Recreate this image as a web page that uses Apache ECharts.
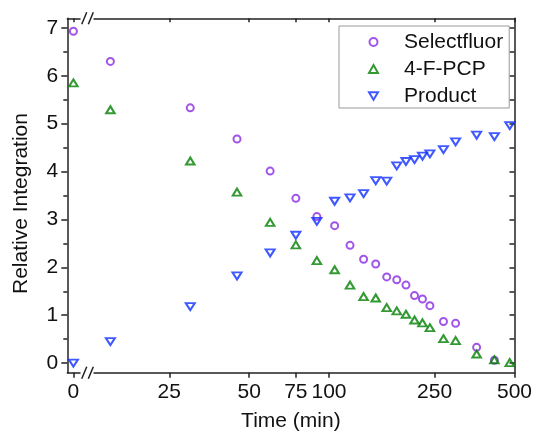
<!DOCTYPE html>
<html>
<head>
<meta charset="utf-8">
<script src="https://cdn.jsdelivr.net/npm/echarts@6/dist/echarts.min.js"></script>
<style>
  html, body { margin: 0; padding: 0; background: #fff; }
  #chart { width: 535px; height: 442px; }
</style>
</head>
<body>
<div id="chart"></div>
<script>
// Sampling times (min)
const times = [0, 15, 30, 45, 60, 75, 90, 105, 120, 135, 150, 165, 180, 195, 210, 225, 240, 270, 300, 360, 420, 480];

// Relative integrations per species
const selectfluor = [6.93, 6.30, 5.33, 4.68, 4.01, 3.44, 3.06, 2.87, 2.46, 2.17, 2.07, 1.80, 1.74, 1.63, 1.41, 1.34, 1.20, 0.87, 0.83, 0.33, 0.06, null];
const fPcp        = [5.85, 5.29, 4.22, 3.57, 2.94, 2.47, 2.14, 1.95, 1.63, 1.39, 1.36, 1.16, 1.09, 1.02, 0.90, 0.84, 0.74, 0.51, 0.47, 0.19, 0.07, 0.01];
const product     = [0.00, 0.45, 1.18, 1.82, 2.30, 2.67, 2.96, 3.38, 3.45, 3.54, 3.81, 3.80, 4.12, 4.21, 4.25, 4.32, 4.37, 4.46, 4.62, 4.76, 4.73, 4.96];

const seriesNames = ['Selectfluor', '4-F-PCP', 'Product'];

// Time axis tick labels
const xTickLabels = [0, 25, 50, 75, 100, 250, 500];
const yTickLabels = [0, 1, 2, 3, 4, 5, 6, 7];

// Log time axis with a broken segment: t = 0 sits just left of the break
const X_MIN = 10.32, X_MAX = 500, ZERO_AT = 10.88, BREAK_AT = 12.3;
const toX = t => Math.log10(t === 0 ? ZERO_AT : t);

const FONT = "'Liberation Sans', Arial, sans-serif";
const AXIS_COLOR = '#222';
const TEXT_COLOR = '#111';
const DOWN_TRIANGLE = 'path://M0,0L10,0L5,8.5Z';

function pairs(vals) {
  return times.map((t, i) => vals[i] == null ? null : [toX(t), vals[i]]).filter(Boolean);
}

const xTickPos = xTickLabels.map(toX);
const yMinor = [];
for (let v = 0.5; v < 7; v += 1) yMinor.push(v);
const yAll = [];
for (let v = 0; v <= 7; v += 0.5) yAll.push(v);

const chart = echarts.init(document.getElementById('chart'), null, { renderer: 'canvas' });

const baseX = {
  type: 'value', min: Math.log10(X_MIN), max: Math.log10(X_MAX),
  splitLine: { show: false },
  axisLine: { show: true, onZero: false, lineStyle: { color: AXIS_COLOR, width: 1.5 } }
};
const baseY = {
  type: 'value', min: -0.2, max: 7.2,
  splitLine: { show: false },
  axisLine: { show: true, onZero: false, lineStyle: { color: AXIS_COLOR, width: 1.5 } }
};

const option = {
  animation: false,
  backgroundColor: '#fff',
  grid: { left: 67.3, right: 20, top: 18.3, bottom: 69.3, containLabel: false },
  xAxis: [
    Object.assign({}, baseX, {
      position: 'bottom',
      name: 'Time (min)', nameLocation: 'middle', nameGap: 38,
      nameTextStyle: { fontFamily: FONT, fontSize: 21, color: TEXT_COLOR },
      axisTick: { show: true, inside: false, length: 5, customValues: xTickPos,
                  lineStyle: { color: AXIS_COLOR, width: 1.5 } },
      axisLabel: { show: true, margin: 9, customValues: xTickPos,
                   fontFamily: FONT, fontSize: 21, color: TEXT_COLOR,
                   formatter: v => {
                     const i = xTickPos.findIndex(p => Math.abs(p - v) < 1e-6);
                     return i >= 0 ? String(xTickLabels[i]) : '';
                   } }
    }),
    Object.assign({}, baseX, {
      position: 'top',
      axisTick: { show: true, inside: true, length: 4, customValues: xTickPos,
                  lineStyle: { color: AXIS_COLOR, width: 1.5 } },
      axisLabel: { show: false }
    })
  ],
  yAxis: [
    Object.assign({}, baseY, {
      position: 'left',
      name: 'Relative Integration', nameLocation: 'middle', nameGap: 36,
      nameTextStyle: { fontFamily: FONT, fontSize: 21, color: TEXT_COLOR, padding: [0, 16, 0, 0] },
      axisTick: { show: true, inside: false, length: 6, customValues: yTickLabels,
                  lineStyle: { color: AXIS_COLOR, width: 1.5 } },
      axisLabel: { show: true, margin: 9, customValues: yTickLabels,
                   fontFamily: FONT, fontSize: 21, color: TEXT_COLOR }
    }),
    Object.assign({}, baseY, {
      position: 'left',
      axisLine: { show: false },
      axisTick: { show: true, inside: false, length: 4, customValues: yMinor,
                  lineStyle: { color: AXIS_COLOR, width: 1.5 } },
      axisLabel: { show: false }
    }),
    Object.assign({}, baseY, {
      position: 'right',
      axisTick: { show: true, inside: true, length: 5, customValues: yAll,
                  lineStyle: { color: AXIS_COLOR, width: 1.5 } },
      axisLabel: { show: false }
    })
  ],
  legend: {
    orient: 'vertical', left: 339, top: 26,
    padding: [5, 6, 1, 29], itemGap: 5, itemWidth: 9, itemHeight: 8,
    borderColor: '#999', borderWidth: 1,
    textStyle: { fontFamily: FONT, fontSize: 21, color: TEXT_COLOR, lineHeight: 22,
                 padding: [0, 0, 0, 21] },
    data: [
      { name: seriesNames[0] },
      { name: seriesNames[1] },
      { name: seriesNames[2], icon: DOWN_TRIANGLE }
    ]
  },
  series: [
    {
      name: seriesNames[0], type: 'scatter', data: pairs(selectfluor),
      symbol: 'circle', symbolSize: 7,
      itemStyle: { color: 'rgba(0,0,0,0)', borderColor: '#8a2be2', borderWidth: 2 }
    },
    {
      name: seriesNames[1], type: 'scatter', data: pairs(fPcp),
      symbol: 'triangle', symbolSize: [8.5, 7],
      itemStyle: { color: 'rgba(0,0,0,0)', borderColor: '#008000', borderWidth: 2 }
    },
    {
      name: seriesNames[2], type: 'scatter', data: pairs(product),
      symbol: 'triangle', symbolRotate: 180, symbolSize: [9, 7],
      itemStyle: { color: 'rgba(0,0,0,0)', borderColor: '#1030ff', borderWidth: 2 }
    }
  ]
};

chart.setOption(option);

// Axis-break marks on the top and bottom frame lines
const bx = chart.convertToPixel({ xAxisIndex: 0 }, Math.log10(BREAK_AT));
const yBottom = chart.convertToPixel({ yAxisIndex: 0 }, -0.2);
const yTop = chart.convertToPixel({ yAxisIndex: 0 }, 7.2);
const breakMarks = [];
[yTop, yBottom].forEach(y => {
  breakMarks.push({ type: 'rect', z: 100, silent: true,
    shape: { x: bx - 7, y: y - 2, width: 13, height: 4 }, style: { fill: '#fff' } });
  [-3.3, 3.3].forEach(dx => {
    breakMarks.push({ type: 'line', z: 101, silent: true,
      shape: { x1: bx + dx - 2.5, y1: y + 6, x2: bx + dx + 2.5, y2: y - 6 },
      style: { stroke: AXIS_COLOR, lineWidth: 1.5 } });
  });
});
chart.setOption({ graphic: breakMarks });
</script>
</body>
</html>
